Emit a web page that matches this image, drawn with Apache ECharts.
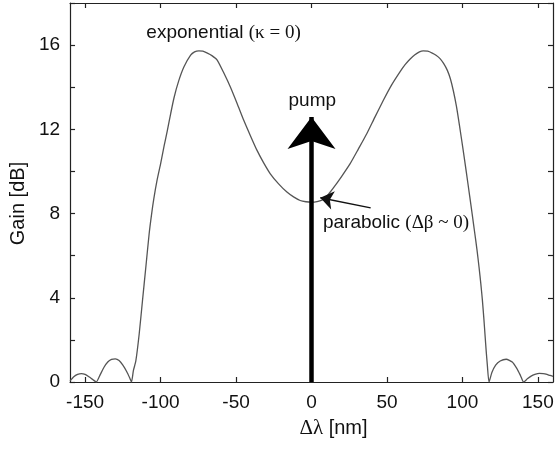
<!DOCTYPE html>
<html>
<head>
<meta charset="utf-8">
<script src="https://cdn.jsdelivr.net/npm/echarts@6/dist/echarts.min.js"></script>
<style>html,body{margin:0;padding:0;background:#fff}#c{width:558px;height:449px}</style>
</head>
<body>
<div id="c"></div>
<script>
// wavelength detuning (nm)
const detuning = [
  -160,-157.5,-155,-152.5,-150,-147.5,-145,-142.6,-140,-137.5,-135,-132.5,-130,-127.5,-125,-122.5,-120.5,-119.3,
  -118,-116.4,-114.2,-112,-109.8,-107.6,-106,-104.5,-102.3,-99.9,-97.7,-95.5,-93.3,-91.1,-88,-84.5,-80.1,-77.5,-74.6,
  -72,-69,-66,-62.5,-58,-53.7,-49.3,-44.9,-40.5,-36.1,-31.7,-27.3,-21.8,-16.3,-11.9,-7.5,-3.7,0,
  3.7,7.5,11,14.5,20,25.6,31,36.6,42,47.6,53,58.6,62,65.2,68.5,71.5,74,
  77,80,82.5,85,87.5,90,92,94,96,98,100.4,102.5,104.8,106.5,108.1,109.6,111,112.2,113.2,114.2,115,115.7,116.5,117.6,
  119.5,122,125,129,133,136,138.5,140.5,143,145.5,148,151,153.5,156,158,160
];
// gain (dB)
const gainDb = [
  0.05,0.25,0.36,0.4,0.36,0.25,0.12,0,0.35,0.7,0.95,1.07,1.1,1.02,0.8,0.5,0.2,0,
  0.55,1.0,2.27,3.86,5.44,7.03,7.95,8.7,9.6,10.4,11.2,11.95,12.75,13.5,14.3,14.97,15.52,15.68,15.73,
  15.71,15.62,15.5,15.29,14.66,14.0,13.23,12.43,11.7,11.0,10.41,9.89,9.41,9.02,8.79,8.62,8.56,8.54,
  8.57,8.66,8.9,9.22,9.77,10.37,11.06,11.79,12.58,13.38,14.1,14.73,15.07,15.33,15.54,15.68,15.73,
  15.71,15.62,15.52,15.37,15.13,14.8,14.4,13.82,13.1,12.2,11.05,10.0,8.83,7.95,7.1,6.3,5.45,4.65,3.9,3.0,2.2,1.5,0.8,0,
  0.45,0.8,1.0,1.08,0.95,0.65,0.3,0,0.15,0.28,0.36,0.41,0.4,0.36,0.31,0.27
];
const xTicks = [-150,-100,-50,0,50,100,150];
const yTicks = [0,2,4,6,8,10,12,14,16,18];
const yLabels = [0,4,8,12,16];

const sans = 'Liberation Sans, Arial, sans-serif';
const serif = 'Liberation Serif, Times New Roman, serif';

const chart = echarts.init(document.getElementById('c'));
const axisLine = {show:true, onZero:false, lineStyle:{color:'#222', width:1.2}};
const tick = {show:true, inside:true, length:5, lineStyle:{color:'#222', width:1.2}};
chart.setOption({
  animation:false,
  grid:{left:69, right:5, top:3, bottom:67, containLabel:false},
  xAxis:[
    {type:'value', min:-160, max:160, position:'bottom', axisLine,
     axisTick:Object.assign({customValues:xTicks}, tick),
     axisLabel:{customValues:xTicks, fontSize:19, color:'#111', fontFamily:sans, margin:11},
     splitLine:{show:false},
     name:'{g|Δλ} [nm]', nameLocation:'middle', nameGap:36,
     nameTextStyle:{fontSize:20, color:'#111', fontFamily:sans, padding:[0,0,0,44],
       rich:{g:{fontSize:21, fontFamily:serif, color:'#111'}}}},
    {type:'value', min:-160, max:160, position:'top', axisLine,
     axisTick:Object.assign({customValues:xTicks}, tick),
     axisLabel:{show:false}, splitLine:{show:false}}
  ],
  yAxis:[
    {type:'value', min:0, max:18, position:'left', axisLine,
     axisTick:Object.assign({customValues:yTicks}, tick),
     axisLabel:{customValues:yLabels, fontSize:19, color:'#111', fontFamily:sans, margin:10},
     splitLine:{show:false},
     name:'Gain [dB]', nameLocation:'middle', nameGap:40,
     nameTextStyle:{fontSize:20, color:'#111', fontFamily:sans, padding:[0,22,0,0]}},
    {type:'value', min:0, max:18, position:'right', axisLine,
     axisTick:Object.assign({customValues:yTicks}, tick),
     axisLabel:{show:false}, splitLine:{show:false}}
  ],
  series:[
    {type:'line', data:detuning.map((x,i)=>[x,gainDb[i]]), showSymbol:false, smooth:0.2,
     lineStyle:{color:'#555', width:1.3}, z:2,
     markLine:{silent:true, animation:false, label:{show:false}, symbol:['none','none'],
       data:[
         [{coord:[0,0], symbol:'none', lineStyle:{color:'#000', width:4.5, type:'solid'}},
          {coord:[0,12.59], symbol:'arrow', symbolSize:[36,32]}],
         [{coord:[39.2,8.27], symbol:'none', lineStyle:{color:'#111', width:1.5, type:'solid'}},
          {coord:[5.8,8.75], symbol:'arrow', symbolSize:[14,13]}]
       ]},
     markPoint:{silent:true, animation:false, symbol:'circle', symbolSize:0,
       label:{show:true, position:'inside', color:'#111', fontFamily:sans, fontSize:19},
       data:[
         {coord:[-58.3,16.57], label:{formatter:'exponential {s|(κ = 0)}',
           rich:{s:{fontFamily:serif, fontSize:19, color:'#111'}}}},
         {coord:[0.5,13.38], label:{formatter:'pump'}},
         {coord:[56,7.57], label:{formatter:'parabolic {s|(Δβ ~ 0)}',
           rich:{s:{fontFamily:serif, fontSize:19, color:'#111'}}}}
       ]}
    }
  ]
});
</script>
</body>
</html>
